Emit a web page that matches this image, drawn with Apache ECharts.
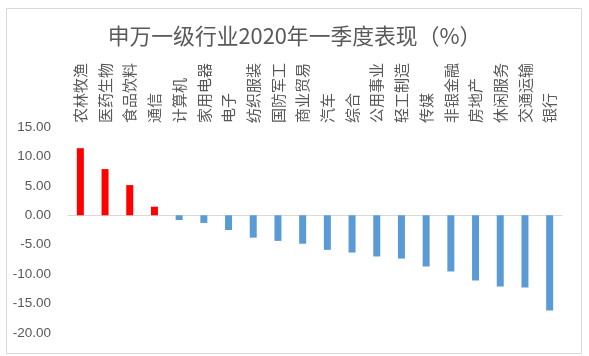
<!DOCTYPE html>
<html>
<head>
<meta charset="utf-8">
<script src="https://cdn.jsdelivr.net/npm/echarts@6/dist/echarts.min.js"></script>
<style>html,body{margin:0;padding:0;background:#fff}#c{width:589px;height:356px}</style>
</head>
<body>
<div id="c"></div>
<script>
var categories = ['农林牧渔','医药生物','食品饮料','通信','计算机','家用电器','电子','纺织服装','国防军工','商业贸易','汽车','综合','公用事业','轻工制造','传媒','非银金融','房地产','休闲服务','交通运输','银行'];
var values = [11.40, 7.85, 5.13, 1.46, -0.80, -1.30, -2.50, -3.80, -4.35, -4.83, -5.88, -6.33, -7.00, -7.35, -8.70, -9.55, -11.08, -12.10, -12.27, -16.17];
var yTicks = [15, -20, 5];
var posColor = '#FF0000', negColor = '#5B9BD5';

var chart = echarts.init(document.getElementById('c'), null, {renderer:'canvas'});
chart.setOption({
  animation: false,
  backgroundColor: '#fff',
  title: {
    text: '申万一级行业2020年一季度表现（%）',
    left: 'center', top: 20,
    textStyle: {fontSize: 21.8, fontWeight: 'normal', color: '#595959', fontFamily: 'Noto Sans CJK SC'}
  },
  graphic: [{
    type: 'rect', left: 4, top: 6, shape: {width: 575, height: 345},
    style: {fill: 'none', stroke: '#d9d9d9', lineWidth: 1}, silent: true
  }],
  grid: {left: 68, right: 27, top: 127, bottom: 23, containLabel: false},
  xAxis: {
    type: 'category', data: categories, position: 'top',
    axisLine: {show: true, onZero: true, lineStyle: {color: '#d9d9d9'}},
    axisTick: {show: false},
    axisLabel: {rotate: 90, interval: 0, margin: 4, color: '#595959', fontSize: 15, fontFamily: 'Noto Sans CJK SC'}
  },
  yAxis: {
    type: 'value', max: yTicks[0], min: yTicks[1], interval: yTicks[2],
    axisLine: {show: false}, axisTick: {show: false}, splitLine: {show: false},
    axisLabel: {margin: 17, color: '#595959', fontSize: 13.5, fontFamily: 'Liberation Sans',
      formatter: function(v){ return v.toFixed(2); }}
  },
  series: [{
    type: 'bar', barWidth: 7,
    data: values.map(function(v){ return {value: v, itemStyle: {color: v >= 0 ? posColor : negColor}}; })
  }]
});
</script>
</body>
</html>
